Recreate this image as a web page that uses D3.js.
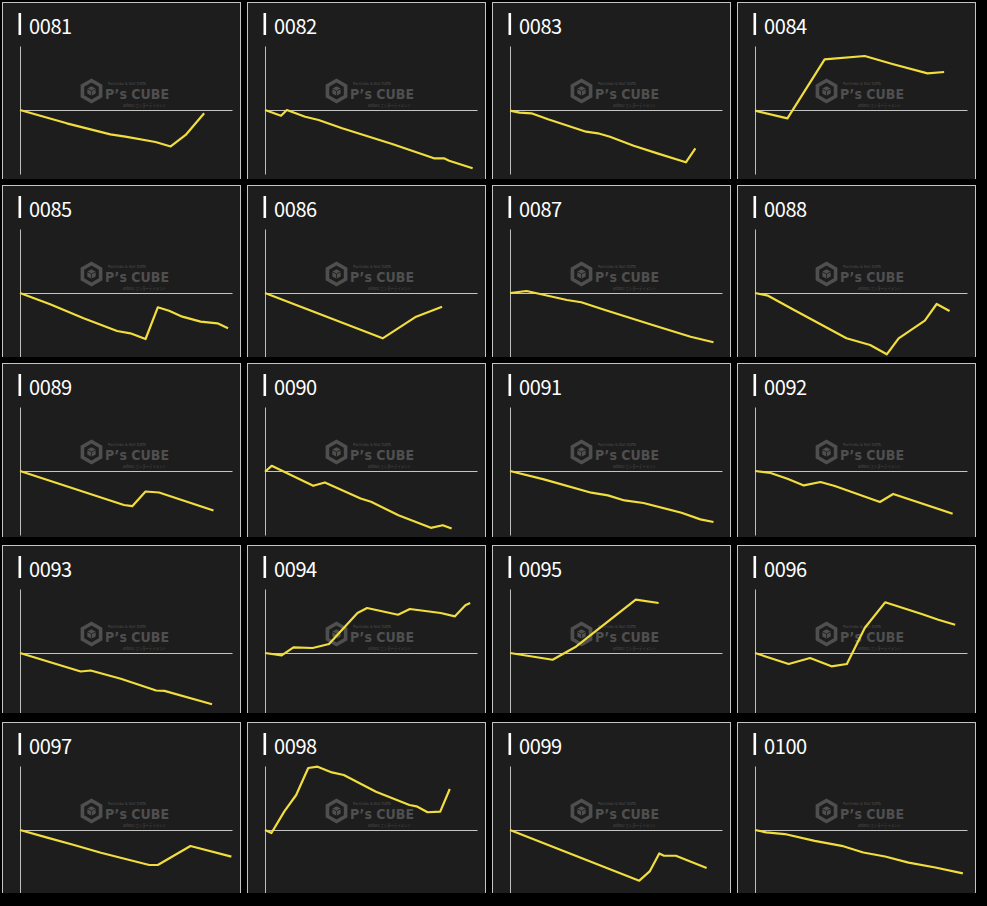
<!DOCTYPE html>
<html>
<head>
<meta charset="utf-8">
<script src="https://cdn.jsdelivr.net/npm/d3@7"></script>
<style>
  html, body { margin: 0; padding: 0; background: #000; }
  svg { display: block; }
</style>
</head>
<body>
<script>
// ---------- DATA ----------
const panelIds = ["0081","0082","0083","0084","0085","0086","0087","0088","0089","0090",
                  "0091","0092","0093","0094","0095","0096","0097","0098","0099","0100"];

// each series: [x (progress, 0-102), y (value, -100..100)]
const s0081 = [[0,0],[22.5,-20.8],[43.5,-38],[50.7,-41.7],[65.2,-50],[72.5,-57],[79.7,-39],[88.6,-5]];
const s0082 = [[0,0],[7.7,-8.9],[10.5,0],[19.3,-10.5],[25.8,-15.6],[37.1,-28.6],[61.2,-53.1],[81.3,-75.5],[86.1,-75.5],[88.6,-79.2],[99.9,-91.1]];
const s0083 = [[0,-1],[4.6,-4.2],[10.3,-5.2],[18.3,-14.5],[36.6,-33.9],[42.3,-36.4],[48.1,-41.7],[59.5,-55.8],[70.9,-67.7],[84.6,-81.7],[89.2,-59.8]];
const s0084 = [[0,-1],[15.6,-13],[33.5,79.2],[52.8,84.4],[66.1,71.9],[83,57.3],[91,59.4]];
const s0085 = [[0,0],[14.5,-17.7],[30.6,-39.5],[46.7,-59.4],[53.1,-63],[60.4,-71.9],[66.3,-22.3],[71.7,-27.7],[78.1,-37],[86.9,-44.8],[95,-47.4],[100.1,-55.2]];
const s0086 = [[0,0],[56.6,-70.8],[72.7,-37],[85.2,-21.4]];
const s0087 = [[0,0],[8,3.1],[27.4,-10.9],[34.3,-14.5],[45.7,-26.6],[68.6,-50],[86.9,-68.3],[97.9,-77]];
const s0088 = [[0,0],[6.3,-4.2],[18.8,-26.6],[30.2,-46.4],[44,-70.8],[55.4,-81.3],[63.4,-95.8],[69.1,-70.8],[81.7,-43.3],[87.4,-17.2],[93.6,-28.1]];
const s0089 = [[0,0],[50,-53.1],[54,-55],[60.4,-32],[66.9,-33.6],[93.1,-61.7]];
const s0090 = [[0,-1.2],[3.2,8.1],[23.2,-23.1],[28.8,-17.9],[46,-43],[51,-48.1],[64.2,-69.1],[79.8,-88.8],[85.5,-84.7],[89.8,-89.8]];
const s0091 = [[0,0],[16.3,-13.1],[39.1,-33.9],[47.1,-38.1],[55.1,-46],[64.2,-50],[82.5,-65.2],[91.6,-75.6],[97.9,-79.7]];
const s0092 = [[0,0],[7.5,-3.1],[15.6,-12],[23.5,-22.5],[31.5,-17.2],[38.4,-23.4],[60.1,-48.4],[66.5,-35.9],[95.1,-66.7]];
const s0093 = [[0,0],[29.2,-28.9],[34,-27.3],[48.5,-40.3],[65.5,-58.6],[69.5,-59.1],[92.4,-80]];
const s0094 = [[0,0],[8,-3.6],[13.7,8.9],[22.9,7.8],[30.8,14.1],[44.5,62.5],[49.1,70.3],[64,59.8],[69.7,68.8],[84.5,62.5],[91.4,57.3],[96.4,74.5],[98.7,78.1]];
const s0095 = [[0,0],[20.5,-10.5],[31.9,10.2],[60.5,83.3],[71.5,78.1]];
const s0096 = [[0,0],[16.2,-17.2],[26.5,-7.8],[36.8,-20.8],[44.2,-17.2],[52.8,39.1],[62.6,79.2],[80.2,60.9],[88.2,52],[96.3,44.2]];
const s0097 = [[0,0],[13.1,-12],[26,-23.4],[38.9,-35.5],[62.2,-54.7],[66.3,-54.7],[82,-25],[101.7,-41.7]];
const s0098 = [[0,0],[3.1,-4.7],[9.3,29.1],[15,54.7],[20.8,96.9],[25.3,98.9],[32.2,90],[37.9,85.9],[53.4,59.8],[69.5,39.1],[72.9,37],[78.2,27.7],[84.3,28.6],[88.9,64.1]];
const s0099 = [[0,0],[62.2,-79.2],[67.2,-64.7],[71.8,-36.6],[74.1,-40.2],[79.8,-40.2],[94.6,-59.4]];
const s0100 = [[0,0],[5.4,-3.8],[14.3,-6.3],[28.7,-16.9],[41.7,-24.7],[52.1,-35.2],[62.6,-41.4],[73.9,-50.9],[86.8,-58.6],[100,-67.8]];

const seriesList = [s0081,s0082,s0083,s0084,s0085,s0086,s0087,s0088,s0089,s0090,
                    s0091,s0092,s0093,s0094,s0095,s0096,s0097,s0098,s0099,s0100];

const xDomain = [0, 102];
const yDomain = [-100, 100];

// ---------- LAYOUT ----------
const W = 987, H = 906;
const colLefts = [2, 247, 492, 737];
const rowTops = [2, 185, 363, 545, 722];
const rowVisible = [177, 172, 174, 168, 171];
const panelW = 238;

const svg = d3.select("body").append("svg").attr("width", W).attr("height", H);
svg.append("rect").attr("width", W).attr("height", H).attr("fill", "#000");

const x = d3.scaleLinear().domain(xDomain).range([18, 230]);
const y = d3.scaleLinear().domain(yDomain).range([172, 44]);

const line = d3.line().x(d => x(d[0])).y(d => y(d[1]));

const wmColor = "#4f4f4f";

function hexPoints(cx, cy, r) {
  const pts = [];
  for (let i = 0; i < 6; i++) {
    const a = Math.PI / 180 * (60 * i - 90);
    pts.push([cx + r * Math.cos(a), cy + r * Math.sin(a)]);
  }
  return pts;
}

panelIds.forEach((id, i) => {
  const col = i % 4, row = Math.floor(i / 4);
  const left = colLefts[col], top = rowTops[row], vis = rowVisible[row];
  const g = svg.append("g").attr("transform", `translate(${left},${top})`);

  const clipId = "clip" + id;
  g.append("clipPath").attr("id", clipId)
    .append("rect").attr("x", -1).attr("y", -1).attr("width", panelW + 2).attr("height", vis + 1);

  const p = g.append("g").attr("clip-path", `url(#${clipId})`);

  p.append("rect")
    .attr("x", 0.5).attr("y", 0.5)
    .attr("width", panelW).attr("height", vis + 20)
    .attr("fill", "#1d1d1d")
    .attr("stroke", "#c4c4c4").attr("stroke-width", 1);

  // watermark
  const wm = p.append("g");
  wm.append("polygon")
    .attr("points", hexPoints(89.5, 89, 10.5).map(d => d.join(",")).join(" "))
    .attr("fill", "none").attr("stroke", wmColor).attr("stroke-width", 3.6);
  wm.append("polygon")
    .attr("points", hexPoints(89.5, 89, 4.8).map(d => d.join(",")).join(" "))
    .attr("fill", wmColor);
  wm.append("path")
    .attr("d", "M84.8,86.6 L89.5,89 L94.2,86.6 M89.5,89 L89.5,93.8")
    .attr("stroke", "#1d1d1d").attr("stroke-width", 0.8).attr("fill", "none");
  wm.append("text").attr("x", 103).attr("y", 96.5)
    .attr("font-family", "DejaVu Sans, sans-serif").attr("font-weight", "bold")
    .attr("font-size", 13.5).attr("fill", wmColor)
    .attr("textLength", 64).attr("lengthAdjust", "spacingAndGlyphs")
    .text("P’s CUBE");
  wm.append("text").attr("x", 106).attr("y", 83)
    .attr("font-family", "DejaVu Sans, sans-serif").attr("font-size", 4).attr("fill", wmColor)
    .attr("textLength", 38).attr("lengthAdjust", "spacingAndGlyphs")
    .text("Pachinko & Slot DATA");
  wm.append("text").attr("x", 121).attr("y", 104.5)
    .attr("font-family", "Noto Sans CJK JP, sans-serif").attr("font-size", 4.2).attr("fill", wmColor)
    .attr("textLength", 43).attr("lengthAdjust", "spacingAndGlyphs")
    .text("anbox2 エンターテイメント");

  // axes
  const yAxis = d3.axisLeft(y).tickValues([]).tickSizeOuter(0);
  const ya = p.append("g").attr("transform", "translate(18,0)").call(yAxis);
  ya.select(".domain").attr("stroke", "#bdbdbd").attr("stroke-width", 1);

  const xAxis = d3.axisBottom(x).tickValues([]).tickSizeOuter(0);
  const xa = p.append("g").attr("transform", `translate(0,${y(0)})`).call(xAxis);
  xa.select(".domain").attr("stroke", "#c4c4c4").attr("stroke-width", 1);

  // series line
  p.append("path").datum(seriesList[i])
    .attr("d", line)
    .attr("fill", "none")
    .attr("stroke", "#f1de3e")
    .attr("stroke-width", 2.2)
    .attr("stroke-linejoin", "round");

  // title
  p.append("rect").attr("x", 16.5).attr("y", 11).attr("width", 2.6).attr("height", 22).attr("fill", "#fff");
  p.append("text").attr("x", 27).attr("y", 31.5)
    .attr("font-family", "Noto Sans CJK JP, Noto Sans, sans-serif")
    .attr("font-size", 20).attr("fill", "#fff")
    .attr("letter-spacing", -0.4)
    .text(id);
});
</script>
</body>
</html>
